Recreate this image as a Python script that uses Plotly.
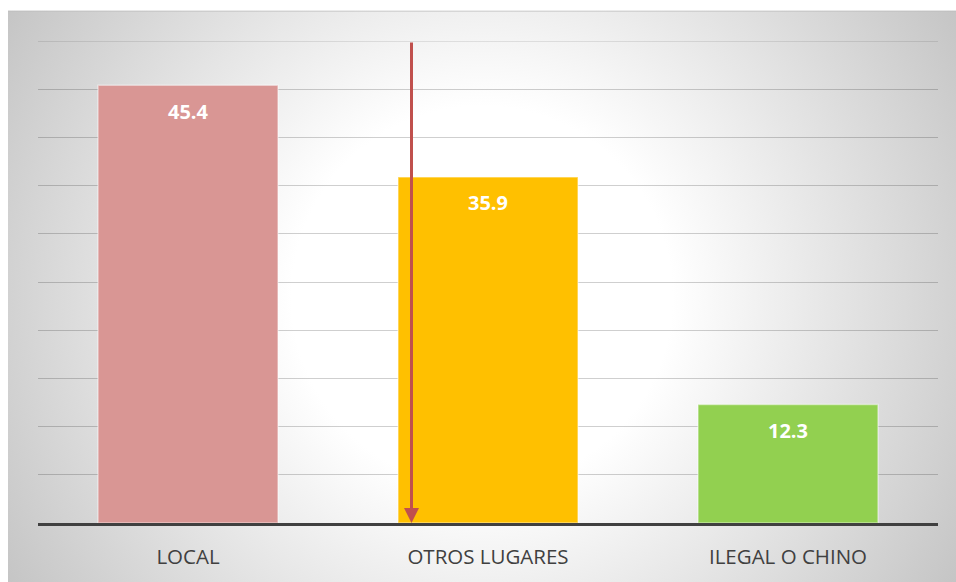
import base64
import plotly.graph_objects as go

categories = ["LOCAL", "OTROS LUGARES", "ILEGAL O CHINO"]
values = [45.4, 35.9, 12.3]
bar_colors = ["#d99694", "#ffc000", "#92d050"]
y_ticks = [0, 5, 10, 15, 20, 25, 30, 35, 40, 45, 50]
y_max = 50
arrow_x = 0.745  # position between categories (category index units)
arrow_top = 50
arrow_bottom = 0

W, H = 956, 582
ML, MR, MT, MB = 38, 18, 40.5, 59
pw, ph = W - ML - MR, H - MT - MB
grid_color = "rgba(0,0,0,0.19)"

# radial gradient background of the chart area
bx0, by0, bw, bh = 8, 10, 980, 600
svg = (
    f'<svg xmlns="http://www.w3.org/2000/svg" width="{bw}" height="{bh}" viewBox="0 0 {bw} {bh}">'
    '<defs><radialGradient id="g" gradientUnits="userSpaceOnUse" cx="474" cy="286" r="560">'
    '<stop offset="0.34" stop-color="#ffffff"/><stop offset="1" stop-color="#c4c4c4"/>'
    '</radialGradient></defs>'
    f'<rect width="{bw}" height="{bh}" fill="url(#g)"/>'
    f'<line x1="0" y1="0.5" x2="{bw}" y2="0.5" stroke="#bcbcbc" stroke-width="1"/>'
    '</svg>'
)
src = "data:image/svg+xml;base64," + base64.b64encode(svg.encode()).decode()

fig = go.Figure()
fig.add_trace(go.Bar(
    x=categories, y=values,
    marker=dict(color=bar_colors, line=dict(color="rgba(255,255,255,0.45)", width=1.5)),
    width=0.6, hoverinfo="x+y",
))

for c, v in zip(categories, values):
    fig.add_annotation(
        x=c, y=v, text=f"<b>{v:.1f}</b>", showarrow=False,
        yanchor="middle", yshift=-26,
        font=dict(family="Open Sans", size=20, color="#ffffff"),
    )

# top gridline (plotly drops the gridline at the range edge)
fig.add_shape(
    type="line", xref="paper", yref="y", x0=0, x1=1, y0=y_max, y1=y_max,
    line=dict(color=grid_color, width=1.2), layer="below",
)

fig.add_annotation(
    x=arrow_x, y=arrow_bottom, ax=arrow_x, ay=arrow_top,
    xref="x", yref="y", axref="x", ayref="y",
    showarrow=True, text="", arrowhead=2, arrowsize=1, arrowwidth=3,
    arrowcolor="#c0504d", standoff=0,
)

fig.add_layout_image(
    source=src, xref="paper", yref="paper",
    x=(bx0 - ML) / pw, y=(H - MB - by0) / ph,
    sizex=bw / pw, sizey=bh / ph,
    xanchor="left", yanchor="top", sizing="stretch", layer="below",
)

fig.update_layout(
    width=W, height=H,
    margin=dict(l=ML, r=MR, t=MT, b=MB, autoexpand=False),
    paper_bgcolor="#ffffff", plot_bgcolor="rgba(0,0,0,0)",
    showlegend=False, bargap=0.4,
    xaxis=dict(
        type="category", range=[-0.5, 2.5], showgrid=False, automargin=False,
        showline=True, linecolor="#404040", linewidth=3,
        ticks="", ticklabelstandoff=13,
        tickfont=dict(family="Open Sans", size=20.5, color="#404040"),
    ),
    yaxis=dict(
        range=[0, y_max], tickvals=y_ticks, showticklabels=False, automargin=False,
        showgrid=True, gridcolor=grid_color, gridwidth=1.2,
        zeroline=False,
    ),
)

fig.write_html(
    "out.html",
    config={"displayModeBar": False},
    post_script="document.body.style.margin='0';document.body.style.overflow='hidden';",
)
